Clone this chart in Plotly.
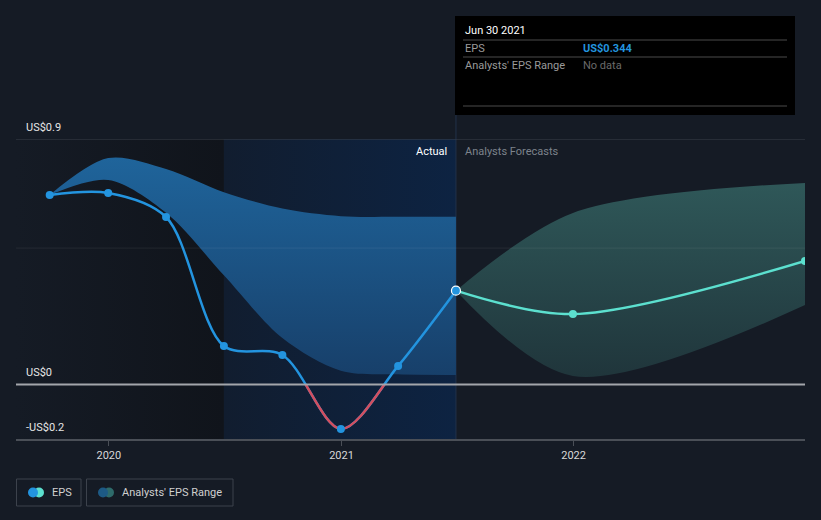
import plotly.graph_objects as go

# ---------------- data ----------------
dates_actual = ["2019-09-30", "2019-12-31", "2020-03-31", "2020-06-30",
                "2020-09-30", "2020-12-31", "2021-03-31", "2021-06-30"]
eps_actual = [0.695, 0.702, 0.614, 0.141, 0.108, -0.163, 0.068, 0.344]
past_range_hi = [0.695, 0.83, 0.79, 0.705, 0.645, 0.617, 0.615, 0.615]
past_range_lo = [0.695, 0.75, 0.63, 0.40, 0.17, 0.05, 0.037, 0.035]

dates_fc = ["2021-06-30", "2021-12-31", "2022-12-31"]
eps_fc = [0.344, 0.258, 0.453]
fc_hi = [0.344, 0.629, 0.739]
fc_lo = [0.344, 0.031, 0.291]

x_range = ["2019-08-08", "2022-12-31"]
y_range = [-0.2, 0.9]
y_ticks = [0.9, 0, -0.2]
y_tick_labels = ["US$0.9", "US$0", "-US$0.2"]
mid_grid = 0.5
x_ticks = ["2020-01-01", "2021-01-01", "2022-01-01"]
x_tick_labels = ["2020", "2021", "2022"]
shade_start = "2020-06-30"   # start of highlighted "Actual" period
present = "2021-06-30"

# ---------------- geometry helpers (layout only) ----------------
W, H = 821, 520
ML, MR, MT, MB = 16, 16, 139, 81
PW, PH = W - ML - MR, H - MT - MB


def px(xp):
    return (xp - ML) / PW


def py(yp):
    return (H - MB - yp) / PH


BG = "#151b25"
BLUE = "#2394df"
TEAL = "#5ce0cf"
RED = "#d24f5f"
FONT = "Roboto"

fig = go.Figure()

# background shading regions
fig.add_trace(go.Scatter(
    x=[x_range[0], shade_start, shade_start, x_range[0], x_range[0]],
    y=[y_range[0], y_range[0], y_range[1], y_range[1], y_range[0]],
    fill="toself", mode="none", hoverinfo="skip", showlegend=False,
    fillgradient=dict(type="horizontal",
                      colorscale=[[0, "rgb(21,27,37)"], [1, "rgb(16,20,27)"]]),
))
fig.add_trace(go.Scatter(
    x=[shade_start, present, present, shade_start, shade_start],
    y=[y_range[0], y_range[0], y_range[1], y_range[1], y_range[0]],
    fill="toself", mode="none", hoverinfo="skip", showlegend=False,
    fillgradient=dict(type="horizontal",
                      colorscale=[[0, "rgb(17,29,47)"], [1, "rgb(13,35,66)"]]),
))
# present divider
fig.add_trace(go.Scatter(
    x=[present, present], y=y_range, mode="lines",
    line=dict(color="#22324a", width=1), hoverinfo="skip", showlegend=False))

# past analyst range band
fig.add_trace(go.Scatter(
    x=dates_actual, y=past_range_lo, mode="lines",
    line=dict(width=0, shape="spline", smoothing=0.9),
    hoverinfo="skip", showlegend=False))
fig.add_trace(go.Scatter(
    x=dates_actual, y=past_range_hi, mode="lines",
    line=dict(width=0, shape="spline", smoothing=0.9),
    fill="tonexty", hoverinfo="skip", showlegend=False,
    fillgradient=dict(type="vertical", start=0.0, stop=0.85,
                      colorscale=[[0, "rgb(23,62,104)"], [1, "rgb(31,101,156)"]])))

# forecast range band
fig.add_trace(go.Scatter(
    x=dates_fc, y=fc_lo, mode="lines",
    line=dict(width=0, shape="spline", smoothing=0.9),
    hoverinfo="skip", showlegend=False))
fig.add_trace(go.Scatter(
    x=dates_fc, y=fc_hi, mode="lines",
    line=dict(width=0, shape="spline", smoothing=0.9),
    fill="tonexty", hoverinfo="skip", showlegend=False,
    fillgradient=dict(type="vertical", start=0.0, stop=0.75,
                      colorscale=[[0, "rgb(31,52,58)"], [1, "rgb(47,88,89)"]])))

# EPS actual line (blue)
fig.add_trace(go.Scatter(
    x=dates_actual, y=eps_actual, mode="lines",
    line=dict(color=BLUE, width=2.5, shape="spline", smoothing=0.9),
    hoverinfo="skip", showlegend=False))
# forecast line (teal)
fig.add_trace(go.Scatter(
    x=dates_fc, y=eps_fc, mode="lines+markers",
    line=dict(color=TEAL, width=2.5, shape="spline", smoothing=0.9),
    marker=dict(color=TEAL, size=8),
    hoverinfo="skip", showlegend=False))

# red overlay of negative part (clipped subplot below zero)
fig.add_trace(go.Scatter(
    x=dates_actual, y=eps_actual, mode="lines", yaxis="y2",
    line=dict(color=RED, width=2.5, shape="spline", smoothing=0.9),
    hoverinfo="skip", showlegend=False))

# markers on top
fig.add_trace(go.Scatter(
    x=dates_actual[:-1], y=eps_actual[:-1], mode="markers", yaxis="y3",
    marker=dict(color=BLUE, size=8), hoverinfo="skip", showlegend=False))
fig.add_trace(go.Scatter(
    x=dates_actual[-1:], y=eps_actual[-1:], mode="markers", yaxis="y3",
    marker=dict(color=BLUE, size=9, line=dict(color="white", width=1.2)),
    hoverinfo="skip", showlegend=False))

d0 = (0 - y_range[0]) / (y_range[1] - y_range[0])

shapes = [
    # top grid line
    dict(type="line", xref="paper", yref="y", x0=0, x1=1, y0=y_ticks[0], y1=y_ticks[0],
         line=dict(color="#3b414b", width=1)),
    # mid faint grid line
    dict(type="line", xref="paper", yref="y", x0=0, x1=1, y0=mid_grid, y1=mid_grid,
         line=dict(color="rgba(255,255,255,0.07)", width=1)),
    # zero line
    dict(type="line", xref="paper", yref="y", x0=0, x1=1, y0=0, y1=0,
         line=dict(color="#a3a6ab", width=2)),
    # present vertical line above plot area
    dict(type="line", xref="x", yref="paper", x0=present, x1=present, y0=1, y1=py(115),
         line=dict(color="#22324a", width=1)),
    # tooltip box
    dict(type="rect", xref="paper", yref="paper", x0=px(455), x1=px(795), y0=py(115), y1=py(16),
         fillcolor="#000000", line=dict(width=0), layer="above"),
    dict(type="line", xref="paper", yref="paper", x0=px(463), x1=px(787), y0=py(40), y1=py(40),
         line=dict(color="#4a4a4a", width=1), layer="above"),
    dict(type="line", xref="paper", yref="paper", x0=px(463), x1=px(787), y0=py(57), y1=py(57),
         line=dict(color="#4a4a4a", width=1), layer="above"),
    dict(type="line", xref="paper", yref="paper", x0=px(463), x1=px(787), y0=py(106), y1=py(106),
         line=dict(color="#4a4a4a", width=1), layer="above"),
    # legend boxes
    dict(type="rect", xref="paper", yref="paper", x0=px(16.5), x1=px(81), y0=py(506), y1=py(479),
         line=dict(color="#3c424c", width=1), fillcolor="rgba(0,0,0,0)"),
    dict(type="rect", xref="paper", yref="paper", x0=px(86.5), x1=px(233), y0=py(506), y1=py(479),
         line=dict(color="#3c424c", width=1), fillcolor="rgba(0,0,0,0)"),
]


def circle(cx, cy, r, color):
    return dict(type="circle", xref="paper", yref="paper",
                x0=px(cx - r), x1=px(cx + r), y0=py(cy + r), y1=py(cy - r),
                fillcolor=color, line=dict(width=0))


shapes += [circle(39, 492.5, 5, TEAL), circle(33, 492.5, 5, BLUE),
           circle(109, 492.5, 5, "#2e6b6b"), circle(103, 492.5, 5, "#1d5a85")]

annotations = []
for v, lab in zip(y_ticks, y_tick_labels):
    annotations.append(dict(x=0, xref="paper", y=v, yref="y", text=lab, showarrow=False,
                            xanchor="left", yanchor="bottom", xshift=8, yshift=3,
                            font=dict(family=FONT, size=11, color="#e6e6e6")))
annotations += [
    dict(x=present, xref="x", y=1, yref="paper", text="Actual", showarrow=False,
         xanchor="right", yanchor="top", xshift=-7, yshift=-4,
         font=dict(family=FONT, size=11, color="#ffffff")),
    dict(x=present, xref="x", y=1, yref="paper", text="Analysts Forecasts", showarrow=False,
         xanchor="left", yanchor="top", xshift=7, yshift=-4,
         font=dict(family=FONT, size=11, color="#7d838c")),
    # tooltip texts
    dict(x=px(463), xref="paper", y=py(31), yref="paper", text="Jun 30 2021", showarrow=False,
         xanchor="left", yanchor="middle", font=dict(family=FONT, size=11, color="#ffffff")),
    dict(x=px(463), xref="paper", y=py(48), yref="paper", text="EPS", showarrow=False,
         xanchor="left", yanchor="middle", font=dict(family=FONT, size=11, color="#9a9a9a")),
    dict(x=px(581), xref="paper", y=py(48), yref="paper", text="<b>US$0.344</b>", showarrow=False,
         xanchor="left", yanchor="middle", font=dict(family=FONT, size=11, color=BLUE)),
    dict(x=px(463), xref="paper", y=py(65), yref="paper", text="Analysts' EPS Range", showarrow=False,
         xanchor="left", yanchor="middle", font=dict(family=FONT, size=11, color="#9a9a9a")),
    dict(x=px(581), xref="paper", y=py(65), yref="paper", text="No data", showarrow=False,
         xanchor="left", yanchor="middle", font=dict(family=FONT, size=11, color="#6a6a6a")),
    # legend labels
    dict(x=px(50), xref="paper", y=py(492.5), yref="paper", text="EPS", showarrow=False,
         xanchor="left", yanchor="middle", font=dict(family=FONT, size=11, color="#d0d0d0")),
    dict(x=px(120), xref="paper", y=py(492.5), yref="paper", text="Analysts' EPS Range", showarrow=False,
         xanchor="left", yanchor="middle", font=dict(family=FONT, size=11, color="#d0d0d0")),
]

fig.update_layout(
    width=W, height=H,
    margin=dict(l=ML, r=MR, t=MT, b=MB),
    paper_bgcolor=BG, plot_bgcolor="rgba(0,0,0,0)",
    showlegend=False,
    font=dict(family=FONT, size=11, color="#d0d0d0"),
    xaxis=dict(type="date", range=x_range, showgrid=False, zeroline=False,
               tickmode="array", tickvals=x_ticks, ticktext=x_tick_labels,
               ticks="outside", ticklen=5, tickcolor="#4a4f57",
               showline=True, linecolor="#4a4f57", linewidth=2,
               tickfont=dict(family=FONT, size=11, color="#d8d8d8")),
    yaxis=dict(range=y_range, domain=[0, 1], visible=False, showgrid=False, zeroline=False),
    yaxis2=dict(range=[y_range[0], 0], domain=[0, d0], anchor="x", visible=False,
                showgrid=False, zeroline=False),
    yaxis3=dict(range=y_range, domain=[0, 1], anchor="x", visible=False,
                showgrid=False, zeroline=False),
    shapes=shapes,
    annotations=annotations,
)

fig.write_html("out.html")
